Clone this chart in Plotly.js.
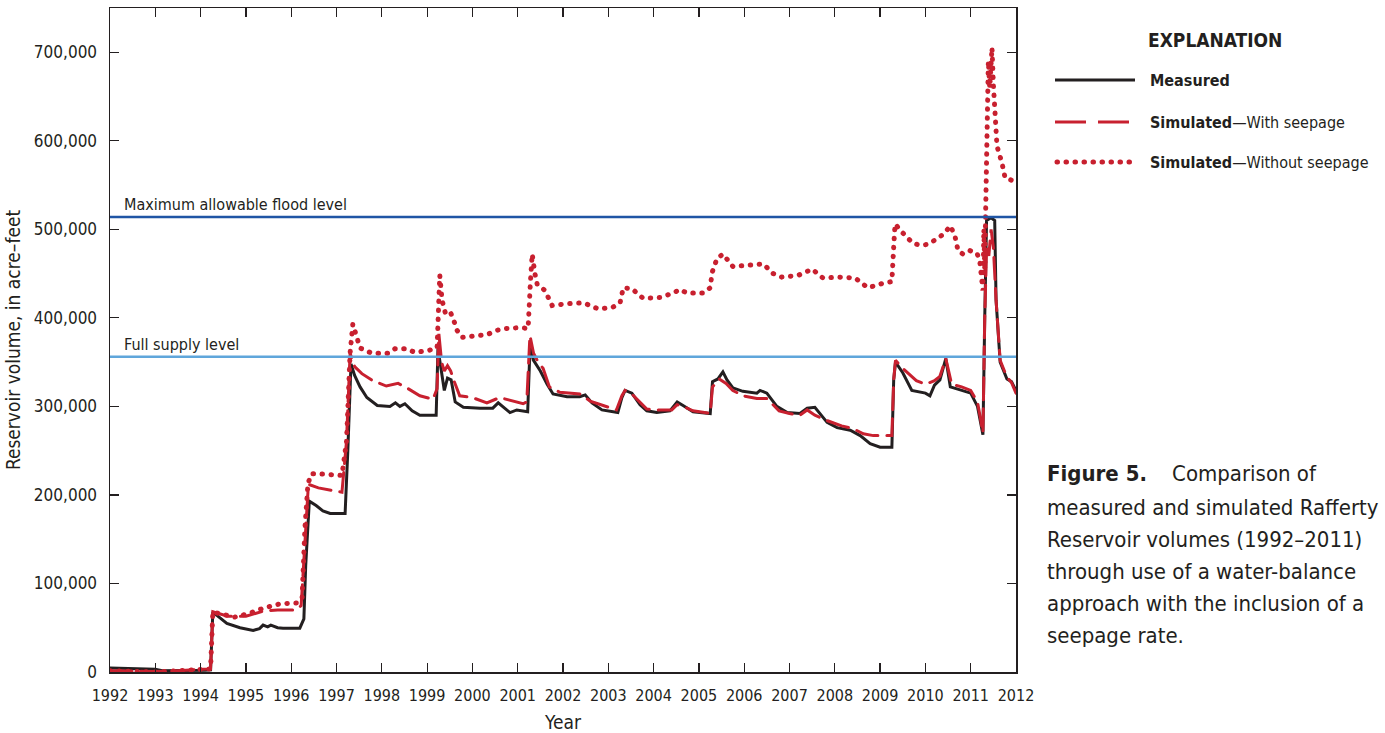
<!DOCTYPE html>
<html>
<head>
<meta charset="utf-8">
<script src="https://cdn.plot.ly/plotly-3.0.1.min.js"></script>
<style>
html,body{margin:0;padding:0;background:#fff;}
#chart{width:1385px;height:733px;}
.js-line{stroke-linecap:round;}
.shapelayer path[data-index="4"]{stroke-linecap:round;}
</style>
</head>
<body>
<div id="chart"></div>
<script>
// ---- Data (decimal years, acre-feet) ----
const measuredYears = [1992.0,1992.5,1993.0,1993.15,1993.6,1994.1,1994.22,1994.27,1994.36,1994.58,1994.87,1995.16,1995.3,1995.38,1995.48,1995.55,1995.7,1995.82,1996.19,1996.28,1996.32,1996.4,1996.55,1996.7,1996.86,1997.19,1997.25,1997.32,1997.4,1997.52,1997.67,1997.9,1998.18,1998.3,1998.4,1998.51,1998.67,1998.84,1999.2,1999.24,1999.3,1999.38,1999.45,1999.53,1999.62,1999.8,2000.17,2000.45,2000.57,2000.72,2000.83,2000.98,2001.22,2001.26,2001.3,2001.35,2001.5,2001.65,2001.78,2002.09,2002.37,2002.49,2002.64,2002.86,2003.21,2003.3,2003.37,2003.52,2003.7,2003.85,2004.07,2004.36,2004.52,2004.65,2004.87,2005.25,2005.3,2005.42,2005.53,2005.62,2005.75,2005.97,2006.28,2006.35,2006.5,2006.72,2006.95,2007.23,2007.39,2007.56,2007.7,2007.83,2008.05,2008.34,2008.56,2008.78,2009.0,2009.26,2009.3,2009.34,2009.5,2009.7,2010.0,2010.1,2010.2,2010.32,2010.45,2010.55,2010.75,2011.0,2011.15,2011.22,2011.27,2011.31,2011.35,2011.45,2011.53,2011.56,2011.65,2011.8,2011.9,2012.0];
const measuredVolume = [4500,4000,3000,1500,1500,2000,2500,68000,64000,55000,50000,47000,49000,53000,51000,53000,50000,49500,49500,60000,120000,193000,188000,182000,179000,179000,250000,348000,335000,322000,310000,301000,300000,304000,300000,303000,295000,290000,290000,365000,345000,318000,332000,330000,305000,299000,298000,298000,304000,298000,293000,296000,294000,350000,368000,352000,340000,325000,314000,311000,311000,313000,304000,296000,293000,310000,318000,315000,302000,295000,293000,295000,305000,301000,294000,292000,328000,331000,339000,330000,321000,317000,315000,318000,315000,300000,293000,292000,298000,299000,290000,282000,276000,273000,267000,258000,254000,254000,330000,350000,338000,318000,315000,312000,324000,330000,354000,322000,319000,315000,300000,282000,268000,400000,510000,513000,510000,420000,350000,331000,328000,318000];

const seepageYears = [1992.0,1992.5,1993.0,1993.5,1994.1,1994.22,1994.27,1994.4,1994.6,1995.0,1995.15,1995.4,1995.7,1996.1,1996.22,1996.3,1996.38,1996.6,1996.9,1997.12,1997.22,1997.3,1997.4,1997.56,1997.8,1998.1,1998.36,1998.55,1998.84,1999.13,1999.22,1999.26,1999.32,1999.38,1999.45,1999.52,1999.6,1999.72,2000.0,2000.32,2000.6,2000.83,2001.12,2001.2,2001.27,2001.35,2001.45,2001.56,2001.7,2001.93,2002.37,2002.6,2002.88,2003.18,2003.3,2003.37,2003.52,2003.85,2004.1,2004.4,2004.52,2004.65,2004.87,2005.25,2005.3,2005.45,2005.6,2005.75,2005.97,2006.28,2006.5,2006.77,2007.0,2007.23,2007.39,2007.56,2007.83,2008.15,2008.4,2008.63,2008.85,2009.0,2009.26,2009.3,2009.34,2009.5,2009.8,2010.0,2010.2,2010.32,2010.45,2010.58,2010.8,2011.0,2011.15,2011.22,2011.27,2011.31,2011.35,2011.4,2011.45,2011.5,2011.56,2011.65,2011.8,2011.9,2012.0];
const seepageVolume = [1500,1000,500,1500,3000,3500,68000,66000,63000,63000,65000,69000,70000,70000,75000,150000,212000,208000,205000,203000,260000,360000,345000,337000,329000,323000,326000,321000,312000,308000,320000,382000,350000,340000,346000,340000,328000,312000,310000,304000,310000,307000,303000,305000,380000,360000,350000,343000,322000,316000,314000,306000,301000,296000,312000,318000,314000,297000,296000,296000,302000,300000,295000,292000,322000,331000,326000,318000,312000,309000,309000,295000,292000,290000,296000,290000,284000,278000,275000,269000,267000,267000,267000,330000,352000,343000,329000,325000,329000,334000,354000,325000,322000,318000,305000,285000,270000,400000,480000,470000,500000,480000,420000,352000,333000,327000,315000];

const noSeepageYears = [1992.0,1992.5,1993.0,1993.5,1994.1,1994.22,1994.27,1994.45,1994.58,1994.75,1995.09,1995.38,1995.75,1996.13,1996.24,1996.3,1996.37,1996.45,1996.57,1997.12,1997.22,1997.3,1997.36,1997.44,1997.52,1997.78,1998.14,1998.29,1998.56,1998.73,1999.02,1999.22,1999.26,1999.28,1999.33,1999.4,1999.5,1999.57,1999.66,1999.77,1999.95,2000.32,2000.54,2000.76,2001.05,2001.23,2001.28,2001.32,2001.38,2001.43,2001.6,2001.76,2002.09,2002.44,2002.6,2002.78,2003.1,2003.26,2003.33,2003.52,2003.77,2004.14,2004.43,2004.58,2004.74,2005.09,2005.25,2005.29,2005.4,2005.53,2005.75,2006.13,2006.42,2006.64,2006.83,2007.19,2007.5,2007.74,2008.11,2008.45,2008.73,2009.06,2009.26,2009.3,2009.33,2009.5,2009.73,2009.9,2010.05,2010.28,2010.43,2010.55,2010.65,2010.72,2010.83,2010.98,2011.14,2011.2,2011.24,2011.27,2011.29,2011.31,2011.33,2011.36,2011.39,2011.42,2011.45,2011.47,2011.5,2011.54,2011.58,2011.69,2011.76,2011.93,2012.0];
const noSeepageVolume = [1500,1000,0,1500,3000,3500,67600,65000,64000,62000,66500,72000,77000,78000,83000,160000,213000,224000,224000,222000,260000,360000,393000,377000,366000,360000,360000,365000,365000,361000,363000,366000,420000,448000,420000,406000,408000,400000,386000,378000,379000,381000,386000,388000,389000,388000,440000,472000,450000,438000,431000,414000,416000,417000,414000,410000,412000,417000,434000,433000,422000,423000,428000,432000,428000,428000,434000,451000,467000,472000,458000,459000,461000,450000,446000,448000,455000,445000,446000,445000,434000,439000,441000,480000,506000,496000,484000,482000,483000,490000,496000,504000,493000,476000,472000,476000,473000,464000,445000,431000,500000,455000,520000,650000,690000,660000,700000,705000,664000,611000,594000,575000,558000,555000,553000];

const maxFloodLevel = 514000;
const fullSupplyLevel = 356000;

const xTickVals = [1992,1993,1994,1995,1996,1997,1998,1999,2000,2001,2002,2003,2004,2005,2006,2007,2008,2009,2010,2011,2012];
const yTickVals = [0,100000,200000,300000,400000,500000,600000,700000];

const legendLabels = ['<b>Measured</b>', '<b>Simulated</b>—With seepage', '<b>Simulated</b>—Without seepage'];
const captionLines = ['<b>Figure 5.</b>    Comparison of', 'measured and simulated Rafferty', 'Reservoir volumes (1992–2011)', 'through use of a water-balance', 'approach with the inclusion of a', 'seepage rate.'];

// ---- Styles ----
const FONT = '"Liberation Sans Narrow", "DejaVu Sans Condensed", "Roboto", sans-serif';
const RED = '#c8202f';
const BLACK = '#231f20';
const DARKBLUE = '#1f55a5';
const LIGHTBLUE = '#5fa6db';
const DASH = '22px,9px';
const DOT = '0.5px,8.5px';

const traces = [
  {x: measuredYears, y: measuredVolume, mode: 'lines', line: {color: BLACK, width: 3}, showlegend: false, hoverinfo: 'skip'},
  {x: seepageYears, y: seepageVolume, mode: 'lines', line: {color: RED, width: 3, dash: DASH}, showlegend: false, hoverinfo: 'skip'},
  {x: noSeepageYears, y: noSeepageVolume, mode: 'lines', line: {color: RED, width: 5, dash: DOT}, showlegend: false, hoverinfo: 'skip'}
];

// paper coords helper (plot area: 110..1016 x, 8..672 y)
const W = 906, H = 664;
const px = p => (p - 110) / W;
const py = p => (672 - p) / H;

const shapes = [
  {type: 'line', xref: 'paper', x0: 0, x1: 1, yref: 'y', y0: maxFloodLevel, y1: maxFloodLevel, line: {color: DARKBLUE, width: 2.5}},
  {type: 'line', xref: 'paper', x0: 0, x1: 1, yref: 'y', y0: fullSupplyLevel, y1: fullSupplyLevel, line: {color: LIGHTBLUE, width: 2.5}},
  {type: 'line', xref: 'paper', yref: 'paper', x0: px(1055), x1: px(1135), y0: py(80), y1: py(80), line: {color: BLACK, width: 3}},
  {type: 'line', xref: 'paper', yref: 'paper', x0: px(1055), x1: px(1135), y0: py(122), y1: py(122), line: {color: RED, width: 3, dash: '31px,12px'}},
  {type: 'line', xref: 'paper', yref: 'paper', x0: px(1057), x1: px(1137), y0: py(162), y1: py(162), line: {color: RED, width: 5, dash: DOT}}
];

const annotations = [
  {xref: 'paper', yref: 'y', x: px(122), y: maxFloodLevel, xanchor: 'left', yanchor: 'bottom', yshift: 1, text: 'Maximum allowable flood level', showarrow: false, font: {family: FONT, size: 16, color: '#231f20'}},
  {xref: 'paper', yref: 'y', x: px(122), y: fullSupplyLevel, xanchor: 'left', yanchor: 'bottom', yshift: 1, text: 'Full supply level', showarrow: false, font: {family: FONT, size: 16, color: '#231f20'}},
  {xref: 'paper', yref: 'paper', x: px(1215), y: py(40), xanchor: 'center', yanchor: 'middle', text: '<b>EXPLANATION</b>', showarrow: false, font: {family: FONT, size: 19, color: '#231f20'}}
];
const legendY = [80, 122, 162];
legendLabels.forEach((t, i) => annotations.push({xref: 'paper', yref: 'paper', x: px(1148), y: py(legendY[i]), xanchor: 'left', yanchor: 'middle', text: t, showarrow: false, font: {family: FONT, size: 16, color: '#231f20'}}));
const captionY = [473, 507, 539, 571, 603, 635];
captionLines.forEach((t, i) => annotations.push({xref: 'paper', yref: 'paper', x: px(1045), y: py(captionY[i]), xanchor: 'left', yanchor: 'middle', text: t, showarrow: false, font: {family: FONT, size: 22, color: '#231f20'}}));

const layout = {
  width: 1385, height: 733,
  margin: {l: 110, r: 369, t: 8, b: 61, pad: 0},
  paper_bgcolor: '#fff', plot_bgcolor: '#fff',
  font: {family: FONT, color: '#231f20'},
  showlegend: false,
  xaxis: {
    range: [1992, 2012], tickvals: xTickVals, tickformat: 'd',
    ticks: 'inside', ticklen: 9, tickwidth: 1.2, tickcolor: '#231f20',
    showline: true, linecolor: '#231f20', linewidth: 1.5, mirror: 'ticks',
    showgrid: false, zeroline: false,
    tickfont: {family: FONT, size: 16, color: '#231f20'}, ticklabelstandoff: 8,
    title: {text: 'Year', font: {family: FONT, size: 19, color: '#231f20'}, standoff: 12}
  },
  yaxis: {
    range: [0, 750000], tickvals: yTickVals, tickformat: ',d',
    ticks: 'inside', ticklen: 9, tickwidth: 1.2, tickcolor: '#231f20',
    showline: true, linecolor: '#231f20', linewidth: 1.5, mirror: 'ticks',
    showgrid: false, zeroline: false,
    tickfont: {family: FONT, size: 17, color: '#231f20'}, ticklabelstandoff: 8,
    title: {text: 'Reservoir volume, in acre–feet', font: {family: FONT, size: 19, color: '#231f20'}, standoff: 8}
  },
  shapes: shapes,
  annotations: annotations
};

Plotly.newPlot('chart', traces, layout, {displayModeBar: false, staticPlot: true});
</script>
</body>
</html>
